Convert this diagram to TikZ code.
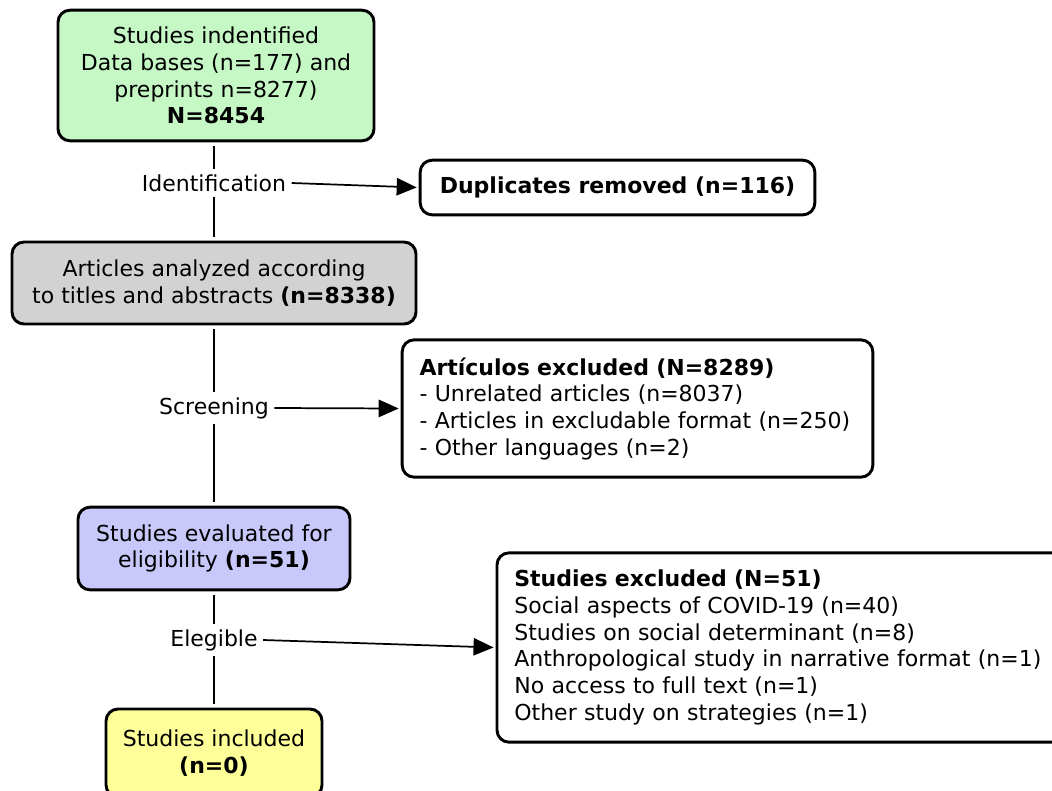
\documentclass[tikz,border=0pt]{standalone}
\usepackage{fontspec}
\setmainfont{DejaVu Sans}
\usepackage{xcolor}
\usetikzlibrary{arrows.meta}

\definecolor{idgreen}{RGB}{198,248,198}
\definecolor{scrgray}{RGB}{210,210,210}
\definecolor{elblue}{RGB}{200,200,250}
\definecolor{inyellow}{RGB}{255,255,153}

\tikzset{
    stage/.style={draw, line width=2.2pt, rounded corners=9pt, align=center,
        inner sep=0pt, font=\fontsize{16.5}{20}\selectfont},
    listbox/.style={stage, fill=white, align=left, inner xsep=13pt},
    phase/.style={fill=white, inner sep=4pt, font=\fontsize{16.5}{20}\selectfont},
    link/.style={line width=1.3pt},
    toarrow/.style={link, -{Triangle[length=15pt,width=13pt]}, shorten >=1.5pt},
}

\begin{document}
\begin{tikzpicture}[x=0.75pt, y=-0.75pt]
    \useasboundingbox (0,0) rectangle (1052,790);

    % Boxes down the main column
    \node[stage, fill=idgreen, minimum width=237pt, minimum height=98pt] (found) at (216,75.5)
        {Studies indentified\\Data bases (n=177) and\\preprints n=8277)\\\textbf{N=8454}};
    \node[stage, fill=scrgray, minimum width=303pt, minimum height=61.5pt] (titles) at (214,283)
        {Articles analyzed according\\to titles and abstracts \textbf{(n=8338)}};
    \node[stage, fill=elblue, minimum width=204pt, minimum height=62pt] (eligible) at (214,548.5)
        {Studies evaluated for\\eligibility \textbf{(n=51)}};
    \node[stage, fill=inyellow, minimum width=162pt, minimum height=66pt] (included) at (214,753)
        {Studies included\\\textbf{(n=0)}};

    % Boxes on the right
    \node[stage, fill=white, minimum width=296pt, minimum height=41pt] (dups) at (617.5,187.5)
        {\textbf{Duplicates removed (n=116)}};
    \node[listbox, text width=327pt, minimum height=103pt] (excl1) at (637.5,408.5)
        {\textbf{Artículos excluded (N=8289)}\\
         - Unrelated articles (n=8037)\\
         - Articles in excludable format (n=250)\\
         - Other languages (n=2)};
    \node[listbox, text width=424pt, minimum height=142pt] (excl2) at (797,647.5)
        {\textbf{Studies excluded (N=51)}\\
         Social aspects of COVID-19 (n=40)\\
         Studies on social determinant (n=8)\\
         Anthropological study in narrative format (n=1)\\
         No access to full text (n=1)\\
         Other study on strategies (n=1)};

    % Phase labels on the main line
    \node[phase] (ident) at (214,183) {Identification};
    \node[phase] (screen) at (214,408) {Screening};
    \node[phase] (elig) at (214,640) {Elegible};

    % Main line
    \draw[link, shorten <=3pt] (found.south -| ident.north) -- (ident);
    \draw[link, shorten >=3pt] (ident) -- (titles);
    \draw[link, shorten <=3pt] (titles) -- (screen);
    \draw[link, shorten >=3pt] (screen) -- (eligible);
    \draw[link, shorten <=3pt] (eligible) -- (elig);
    \draw[link, shorten >=3pt] (elig) -- (included);

    % Arrows to the excluded boxes
    \draw[toarrow] (ident.east) -- (dups.west);
    \draw[toarrow] (screen.east) -- (excl1.west);
    \draw[toarrow] (elig.east) -- (excl2.west);

\end{tikzpicture}
\end{document}
